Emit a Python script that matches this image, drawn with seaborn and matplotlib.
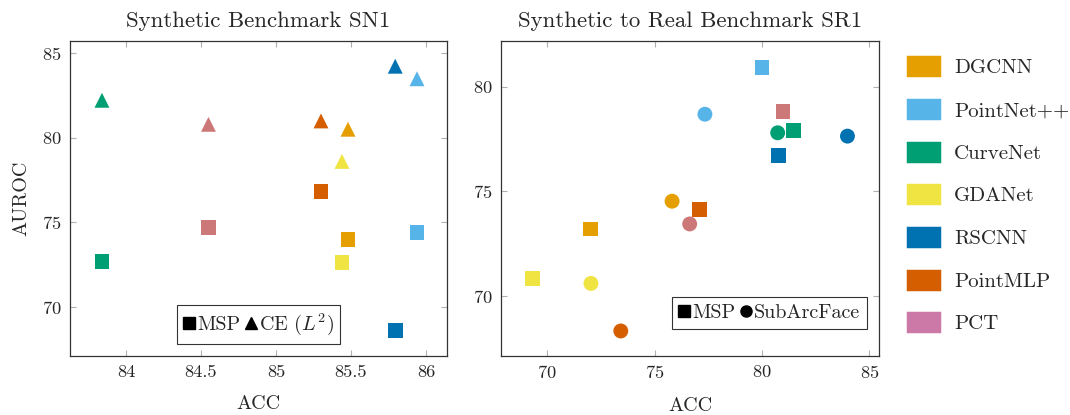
import numpy as np
import pandas as pd
import matplotlib
matplotlib.use("Agg")
import matplotlib.pyplot as plt
import seaborn as sns
from matplotlib.patches import Patch
from matplotlib.lines import Line2D

models = ["DGCNN", "PointNet++", "CurveNet", "GDANet", "RSCNN", "PointMLP", "PCT"]
legend_colors = ["#E69F00", "#56B4E9", "#009E73", "#F0E442", "#0072B2", "#D55E00", "#CC79A7"]
marker_colors = ["#E69F00", "#56B4E9", "#009E73", "#F0E442", "#0072B2", "#D55E00", "#CD7878"]

# SN1 (ACC, AUROC)
sn1_acc = [85.48, 85.94, 83.84, 85.44, 85.795, 85.30, 84.55]
sn1_msp = [73.98, 74.37, 72.7, 72.62, 68.61, 76.82, 74.69]
sn1_ce = [80.49, 83.47, 82.2, 78.59, 84.21, 80.98, 80.78]

# SR1
sr1_msp_acc = [72.03, 80.0, 81.46, 69.30, 80.75, 77.07, 80.98]
sr1_msp = [73.19, 80.93, 77.92, 70.82, 76.71, 74.12, 78.81]
sr1_arc_acc = [75.81, 77.34, 80.73, 72.03, 83.98, 73.42, 76.63]
sr1_arc = [74.52, 78.69, 77.80, 70.58, 77.64, 68.30, 73.43]

sns.set_theme(style="white")
plt.rcParams["font.family"] = "serif"
plt.rcParams["font.serif"] = ["cmr10"]
plt.rcParams["mathtext.fontset"] = "cm"
plt.rcParams["axes.formatter.use_mathtext"] = True
plt.rcParams["axes.unicode_minus"] = False

fig = plt.figure(figsize=(10.7, 4.15), dpi=100)
W, H = 1070, 415
ax1 = fig.add_axes([70 / W, 59 / H, 377 / W, 315 / H])
ax2 = fig.add_axes([501 / W, 59 / H, 378 / W, 315 / H])

palette = dict(zip(models, marker_colors))

df1 = pd.DataFrame({
    "model": models * 2,
    "acc": sn1_acc * 2,
    "auroc": sn1_msp + sn1_ce,
    "method": ["MSP"] * 7 + ["CE"] * 7,
})
sns.scatterplot(data=df1, x="acc", y="auroc", hue="model", style="method",
                markers={"MSP": "s", "CE": "^"}, palette=palette, s=115,
                linewidth=0, legend=False, ax=ax1)

df2 = pd.DataFrame({
    "model": models * 2,
    "acc": sr1_msp_acc + sr1_arc_acc,
    "auroc": sr1_msp + sr1_arc,
    "method": ["MSP"] * 7 + ["SubArcFace"] * 7,
})
sns.scatterplot(data=df2, x="acc", y="auroc", hue="model", style="method",
                markers={"MSP": "s", "SubArcFace": "o"}, palette=palette, s=115,
                linewidth=0, legend=False, ax=ax2)

ax1.set_xlim(83.627, 86.14)
ax1.set_ylim(67.1, 85.7)
ax1.set_xticks([84, 84.5, 85, 85.5, 86])
ax1.set_xticklabels(["84", "84.5", "85", "85.5", "86"])
ax1.set_yticks([70, 75, 80, 85])
ax2.set_xlim(67.84, 85.45)
ax2.set_ylim(67.1, 82.2)
ax2.set_xticks([70, 75, 80, 85])
ax2.set_yticks([70, 75, 80])

for ax, title in [(ax1, "Synthetic Benchmark SN1"), (ax2, "Synthetic to Real Benchmark SR1")]:
    ax.set_title(title, fontsize=16.5, pad=10)
    ax.set_xlabel("ACC", fontsize=14.5, labelpad=11)
    ax.tick_params(direction="in", length=4, width=0.8, color="#B0B0B0",
                   top=True, right=True, bottom=True, left=True, labelsize=13.3, pad=6)
    for sp in ax.spines.values():
        sp.set_color("#333333")
        sp.set_linewidth(0.9)
    ax.grid(False)
ax1.set_ylabel("AUROC", fontsize=14.5, labelpad=8)
ax2.set_ylabel("")

h1 = [Line2D([], [], marker="s", color="black", linestyle="none", markersize=8),
      Line2D([], [], marker="^", color="black", linestyle="none", markersize=8)]
leg1 = ax1.legend(h1, ["MSP", "CE ($L^2$)"], loc="lower center", ncol=2,
                  bbox_to_anchor=(0.5, 0.02), fontsize=14.5, frameon=True, fancybox=False,
                  handlelength=0.55, handletextpad=0.12, columnspacing=0.25,
                  borderpad=0.32, borderaxespad=0.3, edgecolor="black")
leg1.get_frame().set_linewidth(0.8)

h2 = [Line2D([], [], marker="s", color="black", linestyle="none", markersize=8),
      Line2D([], [], marker="o", color="black", linestyle="none", markersize=8)]
leg2 = ax2.legend(h2, ["MSP", "SubArcFace"], loc="lower right", ncol=2,
                  bbox_to_anchor=(0.985, 0.065), fontsize=14.5, frameon=True, fancybox=False,
                  handlelength=0.55, handletextpad=0.12, columnspacing=0.25,
                  borderpad=0.35, borderaxespad=0.3, edgecolor="black")
leg2.get_frame().set_linewidth(0.8)

patches = [Patch(facecolor=c, edgecolor=c, linewidth=2.5, joinstyle="round", label=m)
           for m, c in zip(models, legend_colors)]
fig.legend(handles=patches, loc="upper left", bbox_to_anchor=(900 / W, 1 - 49 / H),
           frameon=False, fontsize=15, handlelength=1.45, handleheight=0.95,
           labelspacing=1.08, handletextpad=0.75, borderaxespad=0)

fig.savefig("out.png", dpi=100)
